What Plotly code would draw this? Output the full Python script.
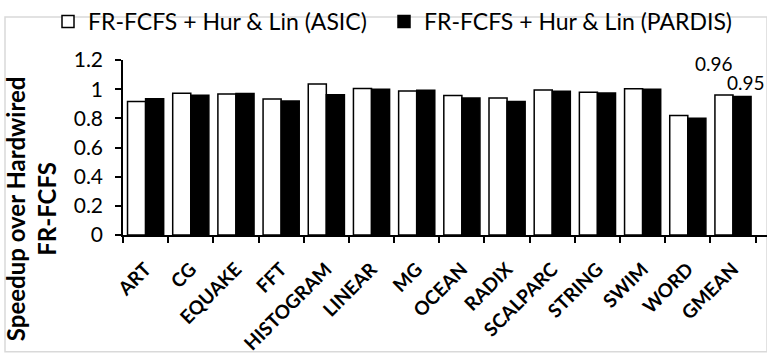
import plotly.graph_objects as go

categories = ["ART", "CG", "EQUAKE", "FFT", "HISTOGRAM", "LINEAR", "MG", "OCEAN",
              "RADIX", "SCALPARC", "STRING", "SWIM", "WORD", "GMEAN"]
asic = [0.915, 0.972, 0.967, 0.932, 1.036, 1.005, 0.987, 0.957, 0.939, 0.994, 0.979, 1.003, 0.819, 0.96]
pardis = [0.935, 0.958, 0.971, 0.919, 0.961, 1.0, 0.992, 0.939, 0.915, 0.985, 0.974, 1.0, 0.80, 0.95]
y_ticks = [0, 0.2, 0.4, 0.6, 0.8, 1, 1.2]
y_tick_text = ["0", "0.2", "0.4", "0.6", "0.8", "1", "1.2"]
names = ["FR-FCFS + Hur & Lin (ASIC)", "FR-FCFS + Hur & Lin (PARDIS)"]

FONT = "Lato"

fig = go.Figure()
fig.add_trace(go.Bar(x=categories, y=asic, name=names[0], legend="legend",
                     marker=dict(color="white", line=dict(color="black", width=1.5))))
fig.add_trace(go.Bar(x=categories, y=pardis, name=names[1], legend="legend2",
                     marker=dict(color="black", line=dict(color="black", width=1.5))))

fig.add_annotation(x="GMEAN", y=asic[-1], xref="x", yref="y", text=f"{asic[-1]:.2f}",
                   showarrow=False, yanchor="bottom", xshift=-19, yshift=18,
                   font=dict(family=FONT, size=19, color="black"))
fig.add_annotation(x="GMEAN", y=pardis[-1], xref="x", yref="y", text=f"{pardis[-1]:.2f}",
                   showarrow=False, yanchor="bottom", xshift=13, yshift=0,
                   font=dict(family=FONT, size=19, color="black"))

fig.add_annotation(x=(31 - 123) / 644, y=(235 - 208) / 183, xref="paper", yref="paper",
                   text="<b>Speedup over Hardwired</b><br><b>FR-FCFS</b>",
                   textangle=-90, showarrow=False, xanchor="center", yanchor="middle",
                   font=dict(family=FONT, size=24, color="black"))

legend_common = dict(orientation="h", y=1 + 63 / 183, xanchor="left", yanchor="top",
                     font=dict(family=FONT, size=23, color="black"),
                     itemwidth=30, bgcolor="rgba(0,0,0,0)")

fig.update_layout(
    width=767, height=359,
    margin=dict(l=123, r=0, t=52, b=124),
    paper_bgcolor="white", plot_bgcolor="white",
    barmode="group", bargap=0.2, bargroupgap=0,
    font=dict(family=FONT, color="black"),
    showlegend=True,
    legend=dict(x=(48 - 123) / 644, **legend_common),
    legend2=dict(x=(384 - 123) / 644, **legend_common),
    xaxis=dict(showline=True, linecolor="black", linewidth=1.5,
               ticks="outside", ticklen=6, tickcolor="black", tickwidth=1.5,
               tickson="boundaries", tickangle=-45, ticklabelstandoff=14,
               tickfont=dict(family=FONT, size=19, color="black", weight="bold"),
               showgrid=False, zeroline=False),
    yaxis=dict(range=[0, 1.2], showline=True, linecolor="black", linewidth=1.5,
               ticks="outside", ticklen=6, tickcolor="black", tickwidth=1.5,
               tickvals=y_ticks, ticktext=y_tick_text, ticklabelstandoff=8,
               tickfont=dict(family=FONT, size=21, color="black"),
               showgrid=False, zeroline=False),
)

fig.add_shape(type="rect", xref="paper", yref="paper",
              x0=-118 / 644, x1=1.0, y0=-122 / 183, y1=1 + 45 / 183,
              line=dict(color="#d9d9d9", width=1.5), fillcolor="rgba(0,0,0,0)", layer="below")

fig.write_html("out.html")
